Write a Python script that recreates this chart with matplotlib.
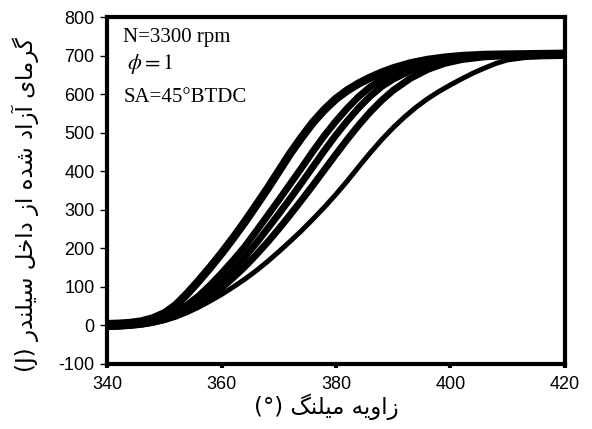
import matplotlib
matplotlib.use('Agg')
import matplotlib.pyplot as plt

# crank angle (deg) / heat released (J)
ang = [340, 342, 344, 346, 348, 350, 352, 354, 356, 358, 360, 362, 364, 366, 368, 370, 372, 374,
       376, 378, 380, 382, 384, 386, 388, 390, 393, 396, 399, 402, 406, 410, 415, 420]
q_a = [3, 4, 6, 10, 18, 31, 52, 82, 115, 150, 187, 226, 267, 310, 354, 400, 446, 488,
       527, 560, 588, 610, 628, 643, 656, 667, 680, 689, 695, 699, 702, 703, 704, 705]
q_b = [1, 2, 4, 8, 14, 23, 36, 53, 76, 104, 135, 168, 203, 243, 284, 325, 367, 409,
       452, 493, 530, 564, 594, 619, 638, 653, 670, 682, 690, 695, 699, 701, 702, 703]
q_c = [-1, 0, 2, 5, 10, 18, 29, 44, 63, 86, 110, 142, 176, 212, 250, 289, 329, 370,
       412, 454, 494, 531, 565, 595, 620, 639, 661, 677, 688, 695, 699, 701, 702, 702]
q_e = [-3, -2, 0, 3, 8, 15, 25, 38, 55, 74, 97, 123, 151, 182, 215, 250, 287, 325,
       364, 404, 444, 483, 520, 554, 584, 610, 641, 664, 680, 690, 697, 700, 701, 701]
ang_d = [340, 342, 344, 346, 348, 350, 352, 354, 356, 358, 360, 362, 364, 366, 368, 370, 372, 374,
         376, 378, 380, 382, 384, 386, 388, 390, 392, 394, 396, 398, 400, 402, 404, 406, 408, 410,
         413, 416, 420]
q_d = [-6, -5, -3, 0, 5, 12, 21, 33, 47, 63, 80, 99, 119, 141, 165, 191, 218, 246,
       276, 307, 340, 375, 412, 448, 482, 513, 541, 566, 588, 607, 624, 640, 655, 668, 680, 689,
       695, 697, 698]

xticks = [340, 360, 380, 400, 420]
yticks = [-100, 0, 100, 200, 300, 400, 500, 600, 700, 800]

# simple persian shaping (matplotlib has no bidi / joining)
FORMS = {
    'ا': ('\uFE8D', '\uFE8E'), 'آ': ('\uFE81', '\uFE82'),
    'ر': ('\uFEAD', '\uFEAE'), 'ز': ('\uFEAF', '\uFEB0'),
    'د': ('\uFEA9', '\uFEAA'), 'و': ('\uFEED', '\uFEEE'),
    'م': ('\uFEE1', '\uFEE2', '\uFEE3', '\uFEE4'),
    'ی': ('\uFBFC', '\uFBFD', '\uFBFE', '\uFBFF'),
    'ش': ('\uFEB5', '\uFEB6', '\uFEB7', '\uFEB8'),
    'ه': ('\uFEE9', '\uFEEA', '\uFEEB', '\uFEEC'),
    'خ': ('\uFEA5', '\uFEA6', '\uFEA7', '\uFEA8'),
    'ل': ('\uFEDD', '\uFEDE', '\uFEDF', '\uFEE0'),
    'س': ('\uFEB1', '\uFEB2', '\uFEB3', '\uFEB4'),
    'ن': ('\uFEE5', '\uFEE6', '\uFEE7', '\uFEE8'),
    'گ': ('\uFB92', '\uFB93', '\uFB94', '\uFB95'),
}

def fa(text):
    out = []
    for i, c in enumerate(text):
        if c not in FORMS:
            out.append(c)
            continue
        prev = text[i-1] if i > 0 else ''
        nxt = text[i+1] if i + 1 < len(text) else ''
        jp = prev in FORMS and len(FORMS[prev]) == 4
        jn = nxt in FORMS and len(FORMS[c]) == 4
        f = FORMS[c]
        if jp and jn:
            out.append(f[3])
        elif jp:
            out.append(f[1])
        elif jn:
            out.append(f[2])
        else:
            out.append(f[0])
    return ''.join(out)[::-1]

plt.rcParams['font.family'] = ['Liberation Sans', 'DejaVu Sans']
plt.rcParams['mathtext.fontset'] = 'stix'
plt.rcParams['axes.unicode_minus'] = False

fig = plt.figure(figsize=(5.92, 4.29), dpi=100)
ax = fig.add_axes([0.181, 0.152, 0.773, 0.808])

ax.plot(ang, q_a, color='black', lw=6, solid_joinstyle='round')
for q in [q_b, q_c, q_e]:
    ax.plot(ang, q, color='black', lw=5, solid_joinstyle='round')
ax.plot(ang_d, q_d, color='black', lw=3.6, solid_joinstyle='round')

ax.set_xlim(340, 420)
ax.set_ylim(-100, 800)
ax.set_xticks(xticks)
ax.set_yticks(yticks)
ax.tick_params(axis='x', direction='out', length=3, width=3, pad=6, labelsize=13)
ax.tick_params(axis='y', direction='out', length=5, width=1, pad=4, labelsize=13)
for s in ax.spines.values():
    s.set_linewidth(3)

ax.set_ylabel('(J) ' + fa('گرمای آزاد شده از داخل سیلندر'),
              family=['DejaVu Sans'], fontsize=16.5)
ax.set_xlabel('(°) ' + fa('زاویه میلنگ'), family=['DejaVu Sans'], fontsize=16.5)
ax.yaxis.set_label_coords(-0.15, 0.46)
ax.xaxis.set_label_coords(0.48, -0.085)

ax.text(0.035, 0.942, 'N=3300 rpm', transform=ax.transAxes, va='center',
        family='Liberation Serif', fontsize=15)
ax.text(0.044, 0.864, r'$\phi = 1$', transform=ax.transAxes, va='center', fontsize=16)
ax.text(0.035, 0.767, 'SA=45°BTDC', transform=ax.transAxes, va='center',
        family='Liberation Serif', fontsize=15)

fig.savefig('out.png', dpi=100)
